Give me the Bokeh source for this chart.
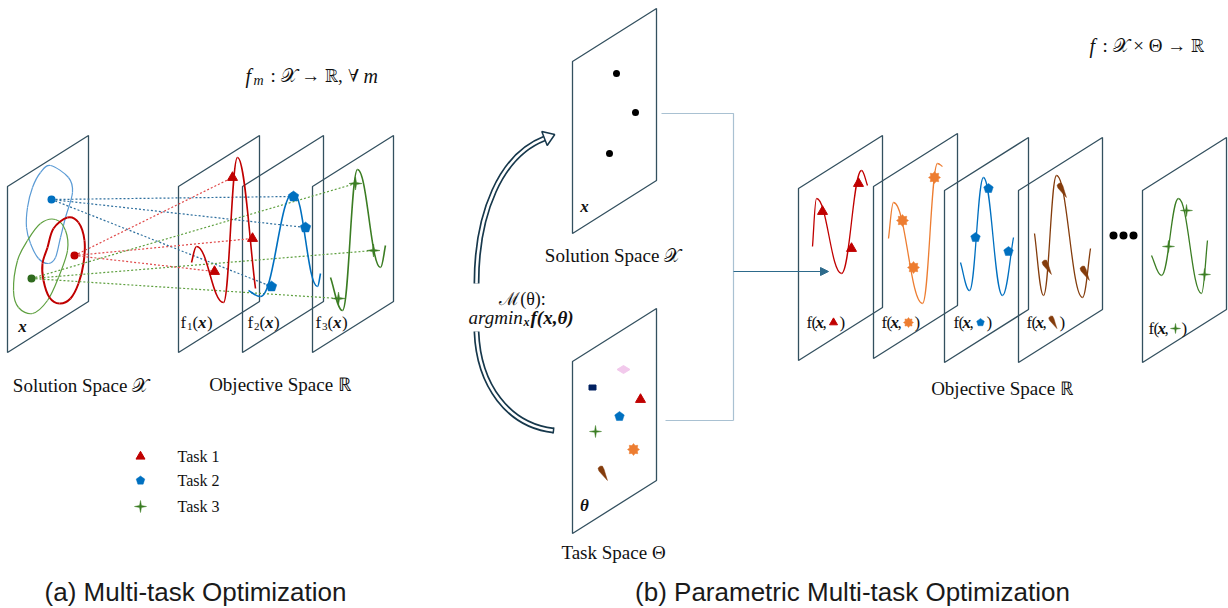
import numpy as np
from bokeh.plotting import figure
from bokeh.models import Range1d, Arrow, NormalHead
from bokeh.core.properties import value
from bokeh.embed import file_html
from bokeh.resources import INLINE

SERIF = value("Liberation Serif")
SANS = value("Liberation Sans")

# ---------------- data (reference pixel coordinates) ----------------
# (a) panels (top-left corners of the parallelograms)
a_panel_x = [7, 178, 242, 312]
a_panel_y = [186, 186, 186, 186]
A_W, A_H, A_SKEW = 81, 166, 51

# (b) panels: solution space, task space, five objective panels
b_panel_x = [572, 572, 798, 873, 944, 1018, 1142]
b_panel_y = [61, 361, 188, 186, 190, 190, 190]
B_W, B_H, B_SKEW = 84, 172, 53

# (a) closed loops in solution space
loop_blue_x = [50, 68, 72, 65, 60, 55, 48, 38, 30, 26, 27, 32, 40]
loop_blue_y = [165, 177, 192, 217, 237, 257, 263, 258, 243, 227, 207, 187, 172]
loop_red_x = [67, 78, 84, 83, 78, 70, 59, 49, 43, 42, 47, 53]
loop_red_y = [217, 222, 240, 263, 283, 298, 303, 297, 280, 263, 247, 228]
loop_green_x = [55, 65, 67, 58, 47, 32, 18, 13, 17, 27, 40]
loop_green_y = [219, 230, 250, 277, 300, 313, 307, 290, 260, 240, 223]

# (a) solution points (task 1, task 2, task 3)
sol_x = [74, 51, 31]
sol_y = [255, 199, 278]

# (a) objective curves (start, extrema, end)
a_f1_x = [191, 196, 223, 237, 255]
a_f1_y = [262, 246, 302, 157, 288]
a_f2_x = [248, 260, 293, 317, 320]
a_f2_y = [290, 296, 192, 286, 273]
a_f3_x = [330, 342, 357, 380, 385]
a_f3_y = [277, 310, 169, 267, 245]

# (a) objective values of the solutions
a_t1_x = [232, 252, 214]
a_t1_y = [177, 238, 271]
a_t2_x = [293, 305, 271]
a_t2_y = [196, 227, 286]
a_t3_x = [355, 373, 338]
a_t3_y = [183, 250, 298]

# (b) solutions
b_sol_x = [616, 635, 609]
b_sol_y = [73, 112, 153]

# (b) tasks in task space: diamond, square, triangle, pentagon, star, burst, spike
task_x = [623, 592, 640, 619, 595, 633, 603]
task_y = [369, 387, 399, 416, 431, 449, 473]

# (b) objective curves
b_red_x = [812, 816, 841, 861, 867]
b_red_y = [246, 198, 273, 170, 185]
b_orange_x = [888, 893, 922, 937, 942]
b_orange_y = [238, 202, 303, 163, 166]
b_blue_x = [960, 969, 983, 1002, 1013]
b_blue_y = [262, 290, 177, 295, 237]
b_brown_x = [1034, 1043, 1056, 1082, 1090]
b_brown_y = [233, 295, 175, 297, 248]
b_green_x = [1151, 1161, 1178, 1201, 1207]
b_green_y = [255, 275, 198, 293, 240]

b_red_mx, b_red_my = [822, 851, 858], [211, 248, 183]
b_orange_mx, b_orange_my = [902, 913, 934], [220, 267, 177]
b_blue_mx, b_blue_my = [975, 988, 1008], [237, 188, 251]
b_brown_mx, b_brown_my = [1047, 1062, 1085], [267, 190, 273]
b_green_mx, b_green_my = [1168, 1186, 1204], [246, 210, 274]

# ellipsis
dots_x = [1113, 1123, 1133]
dots_y = [235, 235, 235]

# connectors
conn_x = [661, 733, 733, 665]
conn_y = [113, 113, 420, 420]
arrow_x = [733, 828]
arrow_y = [271, 271]

# curved hollow arrows (bezier: start, c0, c1, end)
arc_top = [(476, 283), (476, 213), (500, 155), (544, 138)]
arc_bot = [(476, 331), (478, 385), (508, 425), (553, 430)]

# legend
legend_labels = ["Task 1", "Task 2", "Task 3"]
legend_y = [456, 480, 506]

# labels
a_label_x = [180, 247, 315]
b_label_x = [805, 880, 952, 1025, 1147]
b_label_y = [322, 322, 322, 322, 328]

RED = "#c00000"
BLUE = "#0070c0"
GREEN = "#3b7d23"
ORANGE = "#ed7d31"
BROWN = "#843c0c"
PINK = "#f2c9ec"
NAVY = "#002060"
PANEL = "#33505f"
TXT = "#111111"

# ---------------- figure ----------------
p = figure(width=1228, height=608, x_range=Range1d(0, 1228), y_range=Range1d(608, 0),
           output_backend="svg", toolbar_location=None, min_border=0)
p.axis.visible = False
p.grid.visible = False
p.outline_line_color = None
p.background_fill_color = "white"


def panels(xs0, ys0, w, h, sk):
    xs, ys = [], []
    for x0, y0 in zip(xs0, ys0):
        xs.append([x0, x0 + w, x0 + w, x0])
        ys.append([y0, y0 - sk, y0 - sk + h, y0 + h])
    p.patches(xs, ys, fill_color=None, line_color=PANEL, line_width=1.3)


def closed_loop(px, py, color, lw):
    P = np.array(list(zip(px, py)), dtype=float)
    n = len(P)
    d = dict(x0=[], y0=[], x1=[], y1=[], cx0=[], cy0=[], cx1=[], cy1=[])
    for i in range(n):
        p0, p1, p2, p3 = P[i - 1], P[i], P[(i + 1) % n], P[(i + 2) % n]
        c0 = p1 + (p2 - p0) / 6
        c1 = p2 - (p3 - p1) / 6
        d["x0"].append(p1[0]); d["y0"].append(p1[1])
        d["x1"].append(p2[0]); d["y1"].append(p2[1])
        d["cx0"].append(c0[0]); d["cy0"].append(c0[1])
        d["cx1"].append(c1[0]); d["cy1"].append(c1[1])
    p.bezier(line_color=color, line_width=lw, **d)


def wave(px, py, color, lw, k=0.42):
    n = len(px)
    d = dict(x0=[], y0=[], x1=[], y1=[], cx0=[], cy0=[], cx1=[], cy1=[])
    for i in range(n - 1):
        x0, y0, x1, y1 = px[i], py[i], px[i + 1], py[i + 1]
        dx, dy = x1 - x0, y1 - y0
        c0 = (x0 + 0.3 * dx, y0 + 0.3 * dy) if i == 0 else (x0 + k * dx, y0)
        c1 = (x1 - 0.3 * dx, y1 - 0.3 * dy) if i == n - 2 else (x1 - k * dx, y1)
        d["x0"].append(x0); d["y0"].append(y0)
        d["x1"].append(x1); d["y1"].append(y1)
        d["cx0"].append(c0[0]); d["cy0"].append(c0[1])
        d["cx1"].append(c1[0]); d["cy1"].append(c1[1])
    p.bezier(line_color=color, line_width=lw, **d)


def star_shape(cx, cy, ro, ri, n, rot=-np.pi / 2):
    k = np.arange(2 * n)
    ang = rot + np.pi * k / n
    r = np.where(k % 2 == 0, ro, ri)
    return list(cx + r * np.cos(ang)), list(cy + r * np.sin(ang))


def pentagon(cx, cy, r):
    return star_shape(cx, cy, r, r * np.cos(np.pi / 5), 5)


def spike(cx, cy, s):
    # quill-like shape: broad blunt head (upper left), sharp tip (lower right)
    pts = np.array([(-7, -0.8), (-6, -2.6), (-3, -2.4), (2, -1.0), (7, 0.3),
                     (1, 1.4), (-4, 2.2), (-6.5, 1.6)]) * s / 7.0
    a = np.deg2rad(58)
    ca, sa = np.cos(a), np.sin(a)
    xs = cx + pts[:, 0] * ca - pts[:, 1] * sa
    ys = cy + pts[:, 0] * sa + pts[:, 1] * ca
    return list(xs), list(ys)


def shapes(fn, xs, ys, color, *args):
    XX, YY = [], []
    for x, y in zip(xs, ys):
        a, b = fn(x, y, *args)
        XX.append(a); YY.append(b)
    p.patches(XX, YY, fill_color=color, line_color=color, line_width=0.5)


def txt(x, y, t, size, font=SERIF, style="normal", align="left", color=TXT):
    p.text(x=x, y=y, text=t, text_font=font, text_font_size=f"{size}px",
           text_font_style=style, text_align=align, text_baseline="middle",
           text_color=color)


# ---------------- (a) Multi-task Optimization ----------------
panels(a_panel_x, a_panel_y, A_W, A_H, A_SKEW)

closed_loop(loop_blue_x, loop_blue_y, "#5b9bd5", 1.2)
closed_loop(loop_green_x, loop_green_y, "#5fa040", 1.2)
closed_loop(loop_red_x, loop_red_y, RED, 2.0)

# dotted links
for (sx, sy), tx, ty, col in [((sol_x[1], sol_y[1]), a_t2_x, a_t2_y, "#2e6f9e"),
                              ((sol_x[0], sol_y[0]), a_t1_x, a_t1_y, "#e04a4a"),
                              ((sol_x[2], sol_y[2]), a_t3_x, a_t3_y, "#5fa040")]:
    p.segment(x0=[sx] * len(tx), y0=[sy] * len(ty), x1=tx, y1=ty,
              line_color=col, line_width=1.2, line_dash="2 2")

wave(a_f1_x, a_f1_y, RED, 1.6)
wave(a_f2_x, a_f2_y, BLUE, 1.6)
wave(a_f3_x, a_f3_y, GREEN, 1.6)

p.scatter(sol_x, sol_y, marker="circle", size=8, fill_color=[RED, BLUE, "#2f6a1e"],
          line_color=None)
p.scatter(a_t1_x, a_t1_y, marker="triangle", size=10, fill_color=RED, line_color=RED)
shapes(pentagon, a_t2_x, a_t2_y, BLUE, 5.5)
shapes(star_shape, a_t3_x, a_t3_y, GREEN, 6.5, 1.4, 4)

# panel text
txt([22], [326], ["x"], 17, style="bold italic", align="center")
txt([x for x in a_label_x], [322] * 3, ["f"] * 3, 17)
txt([x + 6.5 for x in a_label_x], [326] * 3, ["1", "2", "3"], 11)
txt([x + 12 for x in a_label_x], [322] * 3, ["("] * 3, 17)
txt([x + 17.5 for x in a_label_x], [322] * 3, ["x"] * 3, 17, style="bold italic")
txt([x + 26.5 for x in a_label_x], [322] * 3, [")"] * 3, 17)

txt([80, 280], [385, 384], ["Solution Space 𝒳", "Objective Space ℝ"], 19, align="center")

# formula f_m : X -> R, for all m
txt([245], [75], ["f"], 20, style="italic")
txt([253], [80], ["m"], 14, style="italic")
txt([270], [75], [": 𝒳 → ℝ,  ∀"], 19)
txt([363], [75], ["m"], 20, style="italic")

# legend
p.scatter([140], [legend_y[0]], marker="triangle", size=9, fill_color=RED, line_color=RED)
shapes(pentagon, [140], [legend_y[1]], BLUE, 4.5)
shapes(star_shape, [140], [legend_y[2]], GREEN, 6, 1.3, 4)
txt([177] * 3, legend_y, legend_labels, 16)

# ---------------- (b) Parametric Multi-task Optimization ----------------
p.line(conn_x[:3], conn_y[:3], line_color="#a9c1d2", line_width=1.2)
p.line(conn_x[2:], conn_y[2:], line_color="#a9c1d2", line_width=1.2)
p.add_layout(Arrow(end=NormalHead(size=8, fill_color="#2d6a8b", line_color="#2d6a8b"),
                   x_start=arrow_x[0], y_start=arrow_y[0], x_end=arrow_x[1], y_end=arrow_y[1],
                   line_color="#2d6a8b", line_width=1.2))

panels(b_panel_x, b_panel_y, B_W, B_H, B_SKEW)

# hollow curved arrow
ARC = "#17384c"
for arc in (arc_top, arc_bot):
    (x0, y0), (cx0, cy0), (cx1, cy1), (x1, y1) = arc
    p.bezier(x0=[x0], y0=[y0], x1=[x1], y1=[y1], cx0=[cx0], cy0=[cy0], cx1=[cx1], cy1=[cy1],
             line_color=ARC, line_width=6, line_cap="butt")
    p.bezier(x0=[x0], y0=[y0], x1=[x1], y1=[y1], cx0=[cx0], cy0=[cy0], cx1=[cx1], cy1=[cy1],
             line_color="white", line_width=2.6, line_cap="butt")

# arrow head on top arc
(_, _), (_, _), (hx1, hy1), (hx, hy) = arc_top
dvec = np.array([hx - hx1, hy - hy1], dtype=float)
dvec /= np.linalg.norm(dvec)
perp = np.array([-dvec[1], dvec[0]])
base = np.array([hx, hy])
tip = base + dvec * 11
c1 = base + perp * 7.5
c2 = base - perp * 7.5
p.patch([c1[0], tip[0], c2[0]], [c1[1], tip[1], c2[1]], fill_color="white",
        line_color=ARC, line_width=1.5)
# closed end on bottom arc
(_, _), (_, _), (bx1, by1), (bx, by) = arc_bot
dv = np.array([bx - bx1, by - by1], dtype=float)
dv /= np.linalg.norm(dv)
pp = np.array([-dv[1], dv[0]])
p.segment(x0=[bx + pp[0] * 3], y0=[by + pp[1] * 3], x1=[bx - pp[0] * 3], y1=[by - pp[1] * 3],
          line_color=ARC, line_width=1.5)

txt([522], [298], ["ℳ(θ):"], 18, align="center")
txt([468], [317], ["argmin"], 19, style="italic")
txt([523], [321], ["x"], 12, style="bold italic")
txt([530], [317], ["f(x,θ)"], 19, style="bold italic")

# solution space
p.scatter(b_sol_x, b_sol_y, marker="circle", size=7, fill_color="black", line_color=None)
txt([584], [206], ["x"], 17, style="bold italic", align="center")
txt([612], [255], ["Solution Space 𝒳"], 19, align="center")

# task space
p.patch([task_x[0] - 6.5, task_x[0], task_x[0] + 6.5, task_x[0]],
        [task_y[0], task_y[0] - 4, task_y[0], task_y[0] + 4], fill_color=PINK, line_color=PINK)
p.rect([task_x[1]], [task_y[1]], width=7, height=5, fill_color=NAVY, line_color=NAVY)
p.scatter([task_x[2]], [task_y[2]], marker="triangle", size=10, fill_color=RED, line_color=RED)
shapes(pentagon, [task_x[3]], [task_y[3]], BLUE, 5)
shapes(star_shape, [task_x[4]], [task_y[4]], GREEN, 6, 1.2, 4)
shapes(star_shape, [task_x[5]], [task_y[5]], ORANGE, 6, 4.2, 8)
shapes(spike, [task_x[6]], [task_y[6]], BROWN, 8)
txt([584], [505], ["θ"], 17, style="bold italic", align="center")
txt([613], [552], ["Task Space Θ"], 19, align="center")

# objective curves
wave(b_red_x, b_red_y, RED, 1.3)
wave(b_orange_x, b_orange_y, ORANGE, 1.3)
wave(b_blue_x, b_blue_y, BLUE, 1.3)
wave(b_brown_x, b_brown_y, BROWN, 1.3)
wave(b_green_x, b_green_y, GREEN, 1.3)

p.scatter(b_red_mx, b_red_my, marker="triangle", size=10, fill_color=RED, line_color=RED)
shapes(star_shape, b_orange_mx, b_orange_my, ORANGE, 6, 4.2, 8)
shapes(pentagon, b_blue_mx, b_blue_my, BLUE, 5)
shapes(spike, b_brown_mx, b_brown_my, BROWN, 8)
shapes(star_shape, b_green_mx, b_green_my, GREEN, 6, 1.2, 4)

p.scatter(dots_x, dots_y, marker="circle", size=8, fill_color="black", line_color=None)

# labels f(x, task)
txt([x + 1 for x in b_label_x], b_label_y, ["f"] * 5, 17)
txt([x + 6 for x in b_label_x], b_label_y, ["("] * 5, 17)
txt([x + 10 for x in b_label_x], b_label_y, ["x"] * 5, 17, style="bold italic")
txt([x + 17 for x in b_label_x], b_label_y, [","] * 5, 17)
txt([x + 34 for x in b_label_x], b_label_y, [")"] * 5, 17)
lx = [x + 28 for x in b_label_x]
p.scatter([lx[0]], [b_label_y[0]], marker="triangle", size=8, fill_color=RED, line_color=RED)
shapes(star_shape, [lx[1]], [b_label_y[1]], ORANGE, 5, 3.5, 8)
shapes(pentagon, [lx[2]], [b_label_y[2]], BLUE, 4)
shapes(spike, [lx[3]], [b_label_y[3]], BROWN, 7)
shapes(star_shape, [lx[4]], [b_label_y[4]], GREEN, 5, 1.1, 4)

txt([1002], [388], ["Objective Space ℝ"], 19, align="center")

# formula f : X x Theta -> R
txt([1089], [45], ["f"], 20, style="italic")
txt([1102], [45], [": 𝒳 × Θ → ℝ"], 19)

# ---------------- captions ----------------
txt([195, 852], [591, 591], ["(a) Multi-task Optimization", "(b) Parametric Multi-task Optimization"],
    26, font=SANS, align="center", color="#1a1a1a")

open("out.html", "w").write(file_html(p, INLINE))
